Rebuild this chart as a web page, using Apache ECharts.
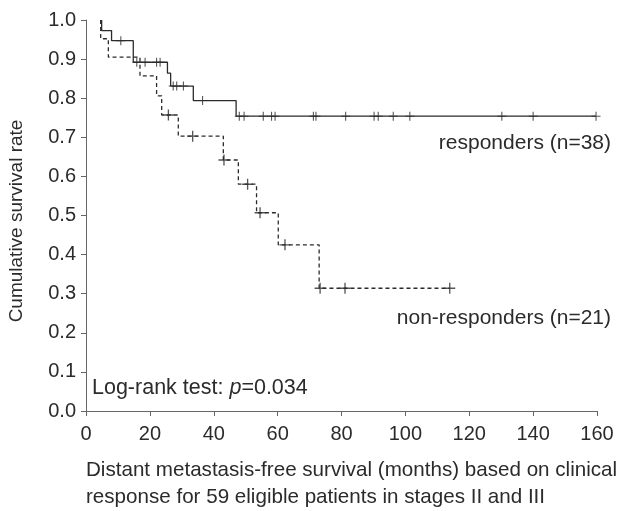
<!DOCTYPE html>
<html>
<head>
<meta charset="utf-8">
<script src="https://cdn.jsdelivr.net/npm/echarts@6/dist/echarts.min.js"></script>
<style>
  html, body { margin: 0; padding: 0; background: #fff; }
  #chart { width: 626px; height: 511px; }
</style>
</head>
<body>
<div id="chart"></div>
<script>
// x axis ticks
const xTicks = [0, 20, 40, 60, 80, 100, 120, 140, 160];

// responders (n=38): step curve, event times and survival after each event
const respTimes = [4.9, 4.9, 8.0, 14.8, 25.5, 26.5, 33.6, 47.0, 159.7];
const respSurv  = [1.0, 0.973, 0.947, 0.892, 0.864, 0.831, 0.794, 0.754, 0.754];
// responders censored marks
const respCensTimes = [10.9, 15.9, 18.5, 22.1, 23.2, 27.3, 28.4, 30.5, 36.5,
  48.0, 49.5, 55.5, 58.1, 59.2, 71.2, 72.0, 81.3, 90.2, 91.5, 96.2, 101.4, 130.2, 140.0, 159.7];
const respCensSurv  = [0.947, 0.892, 0.892, 0.892, 0.892, 0.831, 0.831, 0.831, 0.794,
  0.754, 0.754, 0.754, 0.754, 0.754, 0.754, 0.754, 0.754, 0.754, 0.754, 0.754, 0.754, 0.754, 0.754, 0.754];

// non-responders (n=21)
const nonTimes = [4.6, 4.6, 7.0, 16.9, 22.1, 23.7, 28.9, 43.0, 47.7, 53.4, 60.2, 73.0, 113.9];
const nonSurv  = [1.0, 0.952, 0.905, 0.857, 0.806, 0.757, 0.703, 0.642, 0.580, 0.507, 0.425, 0.314, 0.314];
const nonCensTimes = [25.8, 33.4, 43.2, 50.6, 54.5, 62.3, 73.3, 81.1, 113.9];
const nonCensSurv  = [0.757, 0.703, 0.642, 0.580, 0.507, 0.425, 0.314, 0.314, 0.314];

const pair = (xs, ys) => xs.map((x, i) => [x, ys[i]]);

// small "+" used for censored cases
const plus = 'path://M-0.12,-1L0.12,-1L0.12,-0.12L1,-0.12L1,0.12L0.12,0.12L0.12,1L-0.12,1L-0.12,0.12L-1,0.12L-1,-0.12L-0.12,-0.12Z';

const font = 'Liberation Sans, Arial, sans-serif';
const ink = '#2b2b2b';

const chart = echarts.init(document.getElementById('chart'));
chart.setOption({
  animation: false,
  grid: { left: 86, top: 20, right: 29, bottom: 100, containLabel: false, outerBoundsMode: 'none' },
  xAxis: {
    type: 'value', min: 0, max: 160, interval: 20,
    axisLine: { lineStyle: { color: '#666', width: 1 } },
    axisTick: { show: true, length: 5, lineStyle: { color: '#666' } },
    axisLabel: { color: ink, fontSize: 20, fontFamily: font, margin: 13,
      formatter: v => xTicks.includes(v) ? String(v) : '' },
    splitLine: { show: false }
  },
  yAxis: {
    type: 'value', min: 0, max: 1, interval: 0.1,
    axisLine: { show: true, lineStyle: { color: '#666', width: 1 } },
    axisTick: { show: true, length: 5, lineStyle: { color: '#666' } },
    axisLabel: { color: ink, fontSize: 20, fontFamily: font, margin: 10,
      formatter: v => v.toFixed(1) },
    splitLine: { show: false }
  },
  series: [
    {
      name: 'responders', type: 'line', step: 'end', symbol: 'none',
      data: pair(respTimes, respSurv),
      lineStyle: { color: ink, width: 1.3 }
    },
    {
      name: 'non-responders', type: 'line', step: 'end', symbol: 'none',
      data: pair(nonTimes, nonSurv),
      lineStyle: { color: ink, width: 1.3, type: [4, 3] }
    },
    {
      type: 'scatter', data: pair(respCensTimes, respCensSurv),
      symbol: plus, symbolSize: 9, itemStyle: { color: ink }
    },
    {
      type: 'scatter', data: pair(nonCensTimes, nonCensSurv),
      symbol: plus, symbolSize: 11, itemStyle: { color: ink }
    }
  ],
  graphic: [
    { type: 'text', position: [17, 221], rotation: Math.PI / 2,
      style: { text: 'Cumulative survival rate', font: '19px ' + font, fill: ink,
        textAlign: 'center', textVerticalAlign: 'middle' } },
    { type: 'text', position: [611, 143],
      style: { text: 'responders (n=38)', font: '21px ' + font, fill: ink,
        textAlign: 'right', textVerticalAlign: 'middle' } },
    { type: 'text', position: [611, 318],
      style: { text: 'non-responders (n=21)', font: '21px ' + font, fill: ink,
        textAlign: 'right', textVerticalAlign: 'middle' } },
    { type: 'text', position: [92, 388],
      style: { text: 'Log-rank test: {i|p}=0.034', font: '21.5px ' + font, fill: ink,
        textVerticalAlign: 'middle',
        rich: { i: { fontStyle: 'italic', fontSize: 21.5, fontFamily: font, fill: ink } } } },
    { type: 'text', position: [86, 470],
      style: { text: 'Distant metastasis-free survival (months) based on clinical', font: '20.6px ' + font,
        fill: ink, textVerticalAlign: 'middle' } },
    { type: 'text', position: [86, 497],
      style: { text: 'response for 59 eligible patients in stages II and III', font: '20.6px ' + font,
        fill: ink, textVerticalAlign: 'middle' } }
  ]
});
</script>
</body>
</html>
